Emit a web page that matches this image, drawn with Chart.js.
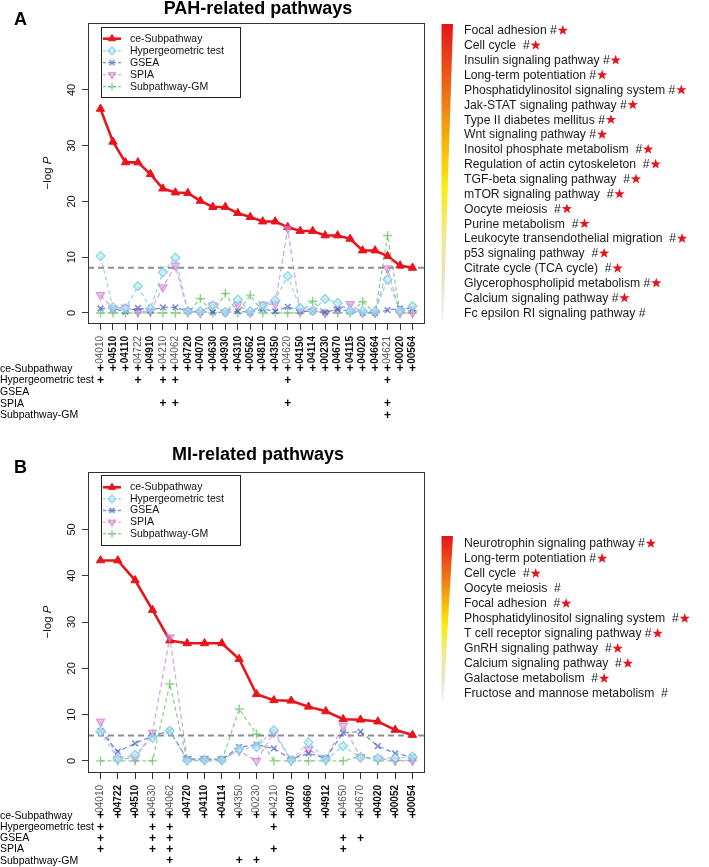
<!DOCTYPE html>
<html>
<head>
<meta charset="utf-8">
<script src="https://cdn.jsdelivr.net/npm/chart.js@4.4.0/dist/chart.umd.min.js"></script>
<style>
  html, body { margin: 0; padding: 0; background: #fff; }
  #wrap { position: relative; width: 709px; height: 867px; }
  canvas { position: absolute; left: 0; }
</style>
</head>
<body>
<div id="wrap">
  <canvas id="chartA" width="709" height="430" style="top:0"></canvas>
  <canvas id="chartB" width="709" height="437" style="top:430px"></canvas>
</div>
<script>
// --- Data: panel A (PAH) ---
const pathwaysA = ['04010', '04510', '04110', '04722', '04910', '04210', '04062', '04720', '04070', '04630',
                   '04930', '04310', '00562', '04810', '04350', '04620', '04150', '04114', '00230', '04670',
                   '04115', '04020', '04664', '04621', '00020', '00564'];
const ceSubA = [36.6, 30.7, 27.0, 27.0, 24.9, 22.3, 21.6, 21.5, 20.1, 19.0, 19.0, 17.9, 17.2, 16.4, 16.4, 15.4,
                14.7, 14.7, 13.9, 13.9, 13.3, 11.2, 11.2, 10.2, 8.5, 8.1];
const hyperA = [10.2, 1.0, 0.8, 4.8, 0.8, 7.3, 9.9, 0.3, 0.3, 1.4, 0.2, 2.4, 0.3, 1.3, 2.3, 6.6,
                0.9, 0.4, 2.5, 1.8, 0.4, 0.3, 0.3, 6.0, 0.4, 1.2];
const gseaA = [0.8, 0.8, 0.2, 0.9, 0.5, 1.0, 1.0, 0.3, 0.2, 0.1, 0.1, 0.3, 0.1, 0.7, 0.3, 1.1,
               0.3, 0.3, 0.1, 0.7, 0.3, 0.0, 0.0, 0.5, 0.8, 0.8];
const spiaA = [3.2, 0.8, 1.0, 0.2, 0.3, 4.6, 8.5, 0.3, 0.0, 1.4, 0.1, 1.5, 0.0, 1.5, 1.6, 15.1,
               0.3, 0.4, 0.0, 0.6, 1.6, 0.0, 0.0, 8.0, 0.0, 0.0];
const gmA = [0, 0, 0, 0, 0, 0, 0, 0, 2.6, 0, 3.5, 0, 3.2, 0, 0, 0,
             0, 2.1, 0, 0, 0, 2.0, 0, 13.9, 0, 0];
const hyperHitsA = ['04010', '04722', '04210', '04062', '04620', '04621'];
const gseaHitsA = [];
const spiaHitsA = ['04210', '04062', '04620', '04621'];
const gmHitsA = ['04621'];
const yTicksA = [0, 10, 20, 30, 40];
const thresholdA = 8.1;
const mapNamesA = ['Focal adhesion #', 'Cell cycle  #', 'Insulin signaling pathway #', 'Long-term potentiation #',
                   'Phosphatidylinositol signaling system #', 'Jak-STAT signaling pathway #', 'Type II diabetes mellitus #',
                   'Wnt signaling pathway #', 'Inositol phosphate metabolism  #', 'Regulation of actin cytoskeleton  #',
                   'TGF-beta signaling pathway  #', 'mTOR signaling pathway  #', 'Oocyte meiosis  #', 'Purine metabolism  #',
                   'Leukocyte transendothelial migration  #', 'p53 signaling pathway  #', 'Citrate cycle (TCA cycle)  #',
                   'Glycerophospholipid metabolism #', 'Calcium signaling pathway #', 'Fc epsilon RI signaling pathway #'];
const starsA = [true, true, true, true, true, true, true, true, true, true,
                true, true, true, true, true, true, true, true, true, false];

// --- Data: panel B (MI) ---
const pathwaysB = ['04010', '04722', '04510', '04630', '04062', '04720', '04110', '04114', '04350', '00230',
                   '04210', '04070', '04660', '04912', '04650', '04670', '04020', '00052', '00054'];
const ceSubB = [43.3, 43.3, 39.0, 32.6, 26.0, 25.4, 25.4, 25.4, 22.0, 14.4, 13.1, 13.0, 11.7, 10.7, 9.0, 8.9, 8.5, 6.7, 5.6];
const hyperB = [6.3, 0.4, 1.3, 5.0, 6.5, 0.1, 0.2, 0.2, 2.5, 3.0, 6.6, 0.1, 4.0, 0.3, 3.2, 0.7, 0.6, 0.6, 0.9];
const gseaB = [6.5, 2.0, 3.8, 5.4, 6.5, 0.4, 0.4, 0.3, 3.0, 3.5, 2.7, 0.4, 1.6, 0.6, 6.1, 6.3, 3.2, 1.6, 0.9];
const spiaB = [8.5, 0.4, 0.6, 6.1, 26.7, 0.4, 0.4, 0.4, 2.2, 0.0, 6.1, 0.1, 2.5, 0.4, 7.6, 0.9, 0.5, 0.1, 0.1];
const gmB = [0, 0, 0, 0, 16.6, 0, 0, 0, 11.2, 5.8, 0, 0, 0, 0, 0, 1.0, 0, 0, 0];
const hyperHitsB = ['04010', '04630', '04062', '04210'];
const gseaHitsB = ['04010', '04630', '04062', '04650', '04670'];
const spiaHitsB = ['04010', '04630', '04062', '04210', '04650'];
const gmHitsB = ['04062', '04350', '00230'];
const yTicksB = [0, 10, 20, 30, 40, 50];
const thresholdB = 5.5;
const mapNamesB = ['Neurotrophin signaling pathway #', 'Long-term potentiation #', 'Cell cycle  #', 'Oocyte meiosis  #',
                   'Focal adhesion  #', 'Phosphatidylinositol signaling system  #', 'T cell receptor signaling pathway #',
                   'GnRH signaling pathway  #', 'Calcium signaling pathway  #', 'Galactose metabolism  #',
                   'Fructose and mannose metabolism  #'];
const starsB = [true, true, true, false, true, true, true, true, true, true, false];

const methodNames = ['ce-Subpathway', 'Hypergeometric test', 'GSEA', 'SPIA', 'Subpathway-GM'];

// --- Styles ---
const FONT = "'Liberation Sans', Arial, Helvetica, sans-serif";
Chart.defaults.font.family = FONT;
Chart.defaults.color = '#000';

const RED = '#e8141c';
const STYLES = [
  { line: RED, fill: RED, point: 'triangle', rot: 0, dash: [], width: 2.6, radius: 4.8, pw: 1 },
  { line: 'rgba(120,205,228,0.8)', fill: 'rgba(195,234,244,0.7)', point: 'rectRot', rot: 0, dash: [4, 3], width: 1.3, radius: 4.5, pw: 1.3 },
  { line: 'rgba(70,95,200,0.7)', fill: 'rgba(70,95,200,0.7)', point: 'crossRot', rot: 0, dash: [5, 3], width: 1.3, radius: 4, pw: 1.6 },
  { line: 'rgba(200,105,200,0.6)', fill: 'rgba(218,155,218,0.55)', point: 'triangle', rot: 180, dash: [5, 3], width: 1.3, radius: 4.8, pw: 1.2 },
  { line: 'rgba(100,195,100,0.75)', fill: 'rgba(100,195,100,0.75)', point: 'cross', rot: 0, dash: [4, 3], width: 1.3, radius: 4.5, pw: 1.4 }
];

// layout (canvas coords)
const panels = [
  {
    canvas: 'chartA', letter: 'A', title: 'PAH-related pathways',
    ids: pathwaysA, series: [ceSubA, hyperA, gseaA, spiaA, gmA], hits: [pathwaysA, hyperHitsA, gseaHitsA, spiaHitsA, gmHitsA],
    yTicks: yTicksA, threshold: thresholdA, names: mapNamesA, stars: starsA,
    yMin: -1.8, yMax: 52, top: 23, bottom: 323, titleY: 14, letterY: 25,
    legTop: 27, legRow0: 38.7, legStep: 12,
    rowY: 369, rowStep: 11.6,
    barTop: 24, barBottom: 320, itemY: 31, itemStep: 14.86
  },
  {
    canvas: 'chartB', letter: 'B', title: 'MI-related pathways',
    ids: pathwaysB, series: [ceSubB, hyperB, gseaB, spiaB, gmB], hits: [pathwaysB, hyperHitsB, gseaHitsB, spiaHitsB, gmHitsB],
    yTicks: yTicksB, threshold: thresholdB, names: mapNamesB, stars: starsB,
    yMin: -2.4, yMax: 62.4, top: 42, bottom: 342, titleY: 30, letterY: 43,
    legTop: 45, legRow0: 57.3, legStep: 11.6,
    rowY: 386, rowStep: 11.2,
    barTop: 106, barBottom: 270, itemY: 114, itemStep: 15
  }
];

function drawStar(ctx, cx, cy, R, r) {
  ctx.beginPath();
  for (let i = 0; i < 10; i++) {
    const ang = -Math.PI / 2 + i * Math.PI / 5;
    const rad = i % 2 ? r : R;
    ctx.lineTo(cx + rad * Math.cos(ang), cy + rad * Math.sin(ang));
  }
  ctx.closePath();
  ctx.fill();
}

function decor(p, bold) {
  return {
    id: 'decor' + p.letter,
    beforeDatasetsDraw(chart) {
      const { ctx, chartArea: a, scales: { y } } = chart;
      const ty = y.getPixelForValue(p.threshold);
      ctx.save();
      ctx.strokeStyle = '#8e8e8e';
      ctx.lineWidth = 2;
      ctx.setLineDash([6, 4]);
      ctx.beginPath();
      ctx.moveTo(a.left, ty);
      ctx.lineTo(a.right, ty);
      ctx.stroke();
      ctx.restore();
    },
    afterDraw(chart) {
      const { ctx, chartArea: a, scales: { x, y } } = chart;
      ctx.save();

      // plot box
      ctx.strokeStyle = '#333';
      ctx.lineWidth = 1;
      ctx.strokeRect(a.left + 0.5, a.top + 0.5, a.right - a.left - 1, a.bottom - a.top);

      // y tick labels (rotated, R style)
      ctx.fillStyle = '#111';
      ctx.font = `11px ${FONT}`;
      ctx.textAlign = 'center';
      ctx.textBaseline = 'middle';
      p.yTicks.forEach(v => {
        ctx.save();
        ctx.translate(72, y.getPixelForValue(v));
        ctx.rotate(-Math.PI / 2);
        ctx.fillText(String(v), 0, 0);
        ctx.restore();
      });

      // y title: -log P
      ctx.save();
      ctx.translate(48, (a.top + a.bottom) / 2);
      ctx.rotate(-Math.PI / 2);
      ctx.font = `11.5px ${FONT}`;
      const t1 = '\u2212log ';
      const w1 = ctx.measureText(t1).width;
      ctx.font = `italic 11.5px ${FONT}`;
      const w2 = ctx.measureText('P').width;
      ctx.textAlign = 'left';
      ctx.font = `11.5px ${FONT}`;
      ctx.fillText(t1, -(w1 + w2) / 2, 0);
      ctx.font = `italic 11.5px ${FONT}`;
      ctx.fillText('P', -(w1 + w2) / 2 + w1, 0);
      ctx.restore();

      // title and panel letter
      ctx.fillStyle = '#000';
      ctx.font = `bold 18px ${FONT}`;
      ctx.textAlign = 'center';
      ctx.textBaseline = 'alphabetic';
      ctx.fillText(p.title, 258, p.titleY);
      ctx.textAlign = 'left';
      ctx.fillText(p.letter, 14, p.letterY);

      // legend inside plot
      ctx.lineWidth = 1;
      ctx.strokeStyle = '#222';
      ctx.fillStyle = '#fff';
      ctx.fillRect(101.5, p.legTop + 0.5, 139, 70);
      ctx.strokeRect(101.5, p.legTop + 0.5, 139, 70);
      ctx.font = `10.5px ${FONT}`;
      ctx.textBaseline = 'middle';
      methodNames.forEach((name, k) => {
        const s = STYLES[k];
        const ry = p.legRow0 + k * p.legStep;
        ctx.save();
        ctx.strokeStyle = s.line;
        ctx.lineWidth = k === 0 ? 2.6 : 1.3;
        ctx.setLineDash(k === 0 ? [] : [3, 2]);
        ctx.beginPath();
        ctx.moveTo(103, ry);
        ctx.lineTo(121, ry);
        ctx.stroke();
        ctx.setLineDash([]);
        ctx.fillStyle = s.fill;
        ctx.lineWidth = s.pw;
        Chart.helpers.drawPoint(ctx, { pointStyle: s.point, rotation: s.rot, radius: s.radius * 0.85, borderWidth: s.pw }, 112, ry);
        ctx.restore();
        ctx.fillStyle = '#111';
        ctx.fillText(name, 130, ry);
      });

      // method table under the x axis
      ctx.font = `10.5px ${FONT}`;
      ctx.fillStyle = '#000';
      ctx.textAlign = 'left';
      methodNames.forEach((name, k) => {
        const ry = p.rowY + k * p.rowStep;
        ctx.font = `10.5px ${FONT}`;
        ctx.textAlign = 'left';
        ctx.fillText(name, 0, ry);
        ctx.font = `bold 12px ${FONT}`;
        ctx.textAlign = 'center';
        p.ids.forEach((id, i) => {
          if (p.hits[k].includes(id)) ctx.fillText('+', x.getPixelForValue(i + 1), ry);
        });
      });

      // colour wedge
      const g = ctx.createLinearGradient(0, p.barTop, 0, p.barBottom);
      g.addColorStop(0, '#e3141b');
      g.addColorStop(0.22, '#ee6a18');
      g.addColorStop(0.4, '#f6b40c');
      g.addColorStop(0.55, '#fbec12');
      g.addColorStop(0.72, '#f1e98e');
      g.addColorStop(0.88, '#e6e3cf');
      g.addColorStop(1, '#f4f4f4');
      ctx.fillStyle = g;
      ctx.beginPath();
      ctx.moveTo(441.5, p.barTop);
      ctx.lineTo(453, p.barTop);
      ctx.lineTo(443.5, p.barBottom);
      ctx.lineTo(441.5, p.barBottom);
      ctx.closePath();
      ctx.fill();

      // pathway names
      ctx.font = `12.2px ${FONT}`;
      ctx.textAlign = 'left';
      ctx.textBaseline = 'middle';
      p.names.forEach((name, i) => {
        const ty = p.itemY + i * p.itemStep;
        ctx.fillStyle = '#1a1a1a';
        ctx.fillText(name, 464, ty);
        if (p.stars[i]) {
          const w = ctx.measureText(name).width;
          ctx.fillStyle = RED;
          drawStar(ctx, 464 + w + 6, ty - 0.5, 5.4, 2.2);
        }
      });

      ctx.restore();
    }
  };
}

function buildPanel(p) {
  const n = p.ids.length;
  const ext = 0.04 * (n - 1);
  const onlyCe = p.ids.map(id => !p.hits.slice(1).some(h => h.includes(id)));
  const canvas = document.getElementById(p.canvas);
  const H = canvas.height;

  const datasets = p.series.map((vals, k) => {
    const s = STYLES[k];
    return {
      label: methodNames[k],
      data: vals.map((v, i) => ({ x: i + 1, y: v })),
      borderColor: s.line,
      backgroundColor: s.fill,
      borderWidth: s.width,
      borderDash: s.dash,
      pointStyle: s.point,
      pointRotation: s.rot,
      pointRadius: s.radius,
      pointHoverRadius: s.radius,
      pointBorderColor: s.line,
      pointBackgroundColor: s.fill,
      pointBorderWidth: s.pw,
      tension: 0,
      order: k === 0 ? 1 : 0
    };
  });

  new Chart(canvas, {
    type: 'line',
    data: { datasets },
    options: {
      responsive: false,
      animation: false,
      events: [],
      layout: { padding: { top: p.top, right: 709 - 425, left: 0, bottom: 0 } },
      plugins: { legend: { display: false }, tooltip: { enabled: false } },
      scales: {
        x: {
          type: 'linear',
          bounds: 'data',
          min: 1 - ext,
          max: n + ext,
          afterBuildTicks: s => { s.ticks = p.ids.map((_, i) => ({ value: i + 1 })); },
          afterFit: s => { s.height = H - p.bottom; },
          ticks: {
            autoSkip: false,
            minRotation: 90,
            maxRotation: 90,
            padding: 6,
            font: ctx => ({ family: FONT, size: 10, weight: onlyCe[ctx.index] ? 'bold' : 'normal' }),
            color: ctx => onlyCe[ctx.index] ? '#111' : '#555',
            callback: (v) => p.ids[Math.round(v) - 1]
          },
          grid: { display: true, drawOnChartArea: false, drawTicks: true, tickLength: 7, color: '#333', lineWidth: 1 },
          border: { display: false }
        },
        y: {
          type: 'linear',
          bounds: 'data',
          min: p.yMin,
          max: p.yMax,
          afterBuildTicks: s => { s.ticks = p.yTicks.map(v => ({ value: v })); },
          afterFit: s => { s.width = 88; },
          ticks: { display: false },
          grid: { display: true, drawOnChartArea: false, drawTicks: true, tickLength: 6, color: '#333', lineWidth: 1 },
          border: { display: false }
        }
      }
    },
    plugins: [decor(p, onlyCe)]
  });
}

panels.forEach(buildPanel);
</script>
</body>
</html>
